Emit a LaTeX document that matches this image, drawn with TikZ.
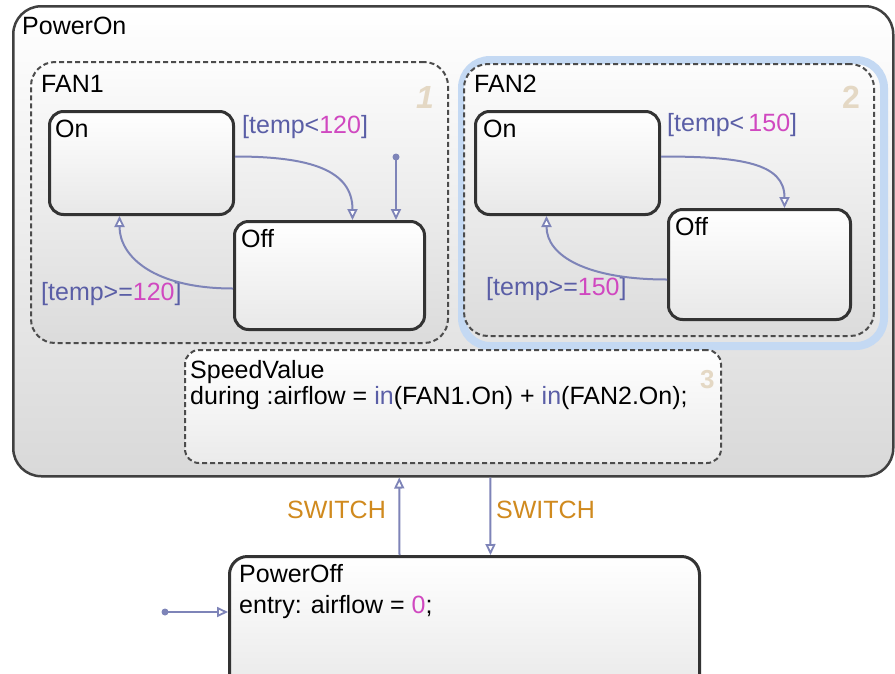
\documentclass[tikz,border=0pt]{standalone}
\usepackage{fontspec}
\setmainfont{Liberation Sans}
\usetikzlibrary{arrows.meta}
\definecolor{trans}{HTML}{7E84B8}
\definecolor{cond}{HTML}{5A5EA6}
\definecolor{num}{HTML}{D048C0}
\definecolor{evt}{HTML}{D08A1E}
\definecolor{hl}{HTML}{C4D9F3}
\definecolor{order}{HTML}{E4D8C4}
\begin{document}
\begin{tikzpicture}[x=1pt,y=-1pt,
  base/.style={font=\fontsize{25}{30}\selectfont, inner sep=0pt},
  lbl/.style={base, anchor=base west},
  ord/.style={font=\fontsize{32}{36}\selectfont\bfseries, text=order, inner sep=0pt, anchor=base west},
  chart/.style={draw=black!75, line width=2.5pt, rounded corners=28pt, top color=white, bottom color=black!15, anchor=north west, inner sep=0pt},
  parbox/.style={draw=black!70, line width=2pt, dash pattern=on 5pt off 3pt, rounded corners=24pt, top color=black!1, bottom color=black!14, anchor=north west, inner sep=0pt},
  stbox/.style={draw=black!80, line width=3pt, rounded corners=14pt, top color=white, bottom color=black!9, anchor=north west, inner sep=0pt},
  tr/.style={draw=trans, line width=2pt, -{Triangle[fill=white,length=11pt,width=10pt,line width=1.8pt]}},
]
\useasboundingbox (0,0) rectangle (895,673);
\fill[white] (0,0) rectangle (895,673);

% PowerOn superstate
\node[chart, minimum width=880pt, minimum height=470pt] (poweron) at (12,5) {};
\node[lbl] (poweronl) at (22,34) {PowerOn};

% FAN1
\node[parbox, minimum width=417pt, minimum height=281pt] (fan1) at (30,61) {};
\node[lbl] (fan1l) at (41,92) {FAN1};
\node[ord, font=\fontsize{32}{36}\selectfont\bfseries\itshape] (fan1o) at (416,108) {1};
\node[stbox, minimum width=184pt, minimum height=103pt] (f1on) at (48,110) {};
\node[lbl] (f1onl) at (55,137) {On};
\node[stbox, minimum width=190pt, minimum height=108pt] (f1off) at (233,220) {};
\node[lbl] (f1offl) at (241,247) {Off};
\node[lbl] (c1a) at (242,133) {\textcolor{cond}{[temp<}\textcolor{num}{120}\textcolor{cond}{]}};
\node[lbl] (c1b) at (41,300) {\textcolor{cond}{[temp>=}\textcolor{num}{120}\textcolor{cond}{]}};
\draw[tr] ([yshift=6.5pt]f1on.east) .. controls +(75,0) and +(0,-50) .. ([xshift=23pt]f1off.north);
\draw[tr] ([yshift=-13pt]f1off.west) .. controls +(-80,0) and +(0,40) .. ([xshift=-22pt]f1on.south);
\coordinate (d1) at (396,157);
\fill[trans] (d1) circle (3.5pt);
\draw[tr] (d1) -- (d1 |- f1off.north);

% FAN2 (highlighted)
\node[draw=hl, line width=8pt, rounded corners=28pt, minimum width=422pt, minimum height=286pt, anchor=north west, inner sep=0pt] (fan2hl) at (458,56) {};
\node[parbox, minimum width=410pt, minimum height=272pt] (fan2) at (463,63) {};
\node[lbl] (fan2l) at (474,92) {FAN2};
\node[ord] (fan2o) at (842,108) {2};
\node[stbox, minimum width=184pt, minimum height=103pt] (f2on) at (474,110) {};
\node[lbl] (f2onl) at (483,137) {On};
\node[stbox, minimum width=182pt, minimum height=110pt] (f2off) at (667,208) {};
\node[lbl] (f2offl) at (675,235) {Off};
\node[lbl] (c2a) at (667,131) {\textcolor{cond}{[temp<\,}\textcolor{num}{150}\textcolor{cond}{]}};
\node[lbl] (c2b) at (486,295) {\textcolor{cond}{[temp>=}\textcolor{num}{150}\textcolor{cond}{]}};
\draw[tr] ([yshift=6.5pt]f2on.east) .. controls +(80,0) and +(0,-45) .. ([xshift=25pt]f2off.north);
\draw[tr] ([yshift=-15pt]f2off.west) .. controls +(-80,0) and +(0,40) .. ([xshift=-21pt]f2on.south);

% SpeedValue
\node[parbox, rounded corners=14pt, top color=white, bottom color=black!8, minimum width=536pt, minimum height=113pt] (speed) at (184,349) {};
\node[lbl] (speedl) at (190,378) {SpeedValue};
\node[lbl] (speedd) at (190,404) {during :airflow = \textcolor{cond}{in}(FAN1.On) + \textcolor{cond}{in}(FAN2.On);};
\node[ord, font=\fontsize{26}{30}\selectfont\bfseries] (speedo) at (700,388) {3};

% PowerOff
\node[stbox, rounded corners=18pt, minimum width=470pt, minimum height=140pt] (poweroff) at (228,555) {};
\node[lbl] (poweroffl) at (239,582) {PowerOff};
\node[lbl] (poweroffe) at (239,613) {entry: airflow = \textcolor{num}{0};};
\coordinate (d0) at (165,612);
\fill[trans] (d0) circle (3.5pt);
\draw[tr] (d0) -- (d0 -| poweroff.west);

% SWITCH transitions
\draw[tr] ([xshift=-65pt]poweroff.north) -- ([xshift=-54pt]poweron.south);
\draw[tr] ([xshift=37pt]poweron.south) -- ([xshift=26pt]poweroff.north);
\node[lbl, text=evt] (sw1) at (287,518) {SWITCH};
\node[lbl, text=evt] (sw2) at (496,518) {SWITCH};
\end{tikzpicture}
\end{document}
